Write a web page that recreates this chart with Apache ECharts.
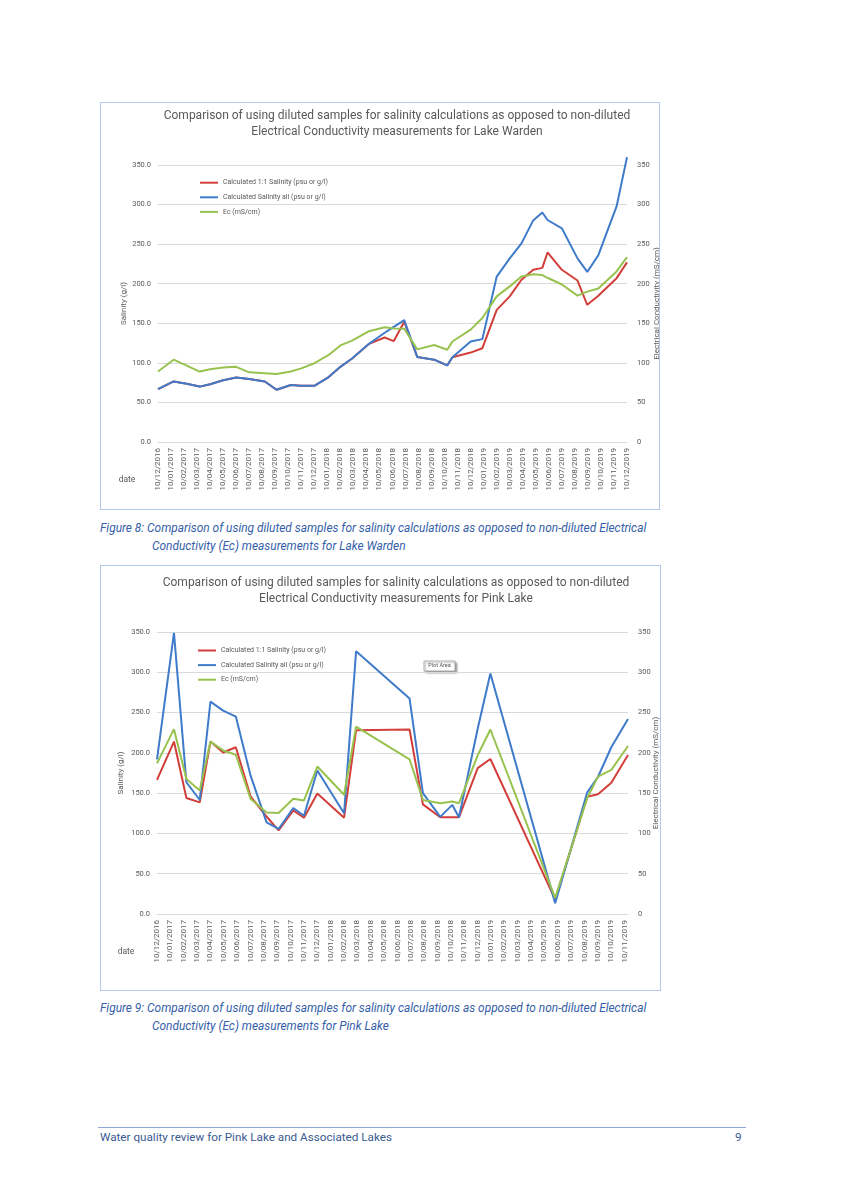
<!DOCTYPE html>
<html>
<head>
<meta charset="utf-8">
<script src="https://cdn.jsdelivr.net/npm/echarts/dist/echarts.min.js"></script>
<style>
html,body{margin:0;padding:0;background:#fff;}
body{width:844px;height:1193px;position:relative;overflow:hidden;font-family:Roboto,"Liberation Sans",sans-serif;}
.box{position:absolute;border:1px solid #b3c8ea;box-sizing:border-box;background:#fff;}
.chart{position:absolute;left:0;top:0;width:100%;height:100%;}
.cap{position:absolute;font-style:italic;font-size:11.9px;color:#3560a8;line-height:18px;white-space:nowrap;}
.foot{position:absolute;font-size:11.7px;color:#3a5a92;line-height:16px;white-space:nowrap;}
.rule{position:absolute;left:98px;top:1127px;width:648px;height:0;border-top:1px solid #8eaadb;}
</style>
</head>
<body>
<div class="box" style="left:100px;top:102px;width:560px;height:408px;"><div id="c1" class="chart"></div></div>
<div class="cap" style="left:100px;top:519px;">Figure 8: Comparison of using diluted samples for salinity calculations as opposed to non-diluted Electrical</div>
<div class="cap" style="left:152px;top:537px;">Conductivity (Ec) measurements for Lake Warden</div>

<div class="box" style="left:100px;top:565px;width:561px;height:426px;"><div id="c2" class="chart"></div></div>
<div class="cap" style="left:100px;top:999px;">Figure 9: Comparison of using diluted samples for salinity calculations as opposed to non-diluted Electrical</div>
<div class="cap" style="left:152px;top:1017px;">Conductivity (Ec) measurements for Pink Lake</div>

<div class="rule"></div>
<div class="foot" style="left:100px;top:1129px;">Water quality review for Pink Lake and Associated Lakes</div>
<div class="foot" style="left:735px;top:1129px;">9</div>

<script>
// ---------- Tick labels ----------
var wardenTicks = ['10/12/2016','10/01/2017','10/02/2017','10/03/2017','10/04/2017','10/05/2017','10/06/2017','10/07/2017','10/08/2017','10/09/2017','10/10/2017','10/11/2017','10/12/2017','10/01/2018','10/02/2018','10/03/2018','10/04/2018','10/05/2018','10/06/2018','10/07/2018','10/08/2018','10/09/2018','10/10/2018','10/11/2018','10/12/2018','10/01/2019','10/02/2019','10/03/2019','10/04/2019','10/05/2019','10/06/2019','10/07/2019','10/08/2019','10/09/2019','10/10/2019','10/11/2019','10/12/2019'];
var pinkTicks = ['10/12/2016','10/01/2017','10/02/2017','10/03/2017','10/04/2017','10/05/2017','10/06/2017','10/07/2017','10/08/2017','10/09/2017','10/10/2017','10/11/2017','10/12/2017','10/01/2018','10/02/2018','10/03/2018','10/04/2018','10/05/2018','10/06/2018','10/07/2018','10/08/2018','10/09/2018','10/10/2018','10/11/2018','10/12/2018','10/01/2019','10/02/2019','10/03/2019','10/04/2019','10/05/2019','10/06/2019','10/07/2019','10/08/2019','10/09/2019','10/10/2019','10/11/2019'];

// ---------- Lake Warden (sample date as months after 10/12/2016) ----------
var wardenMonth = [0,1.2,2.2,3.2,4,5,6,7,8.2,9.1,10.2,11,12,13.1,14,14.9,16.2,17.4,18.1,18.9,19.9,21.2,22.2,22.6,24,24.9,26,27,27.9,28.8,29.5,29.9,31,32.2,32.95,33.8,35.2,36];
var wardenSal11 = [66.7,76.5,73.5,70,73,78,81.5,79.5,76.5,66,72,71,71,82,95,105.5,124,132,127.5,152,107.5,104,96.8,107,113,118.5,167,184,205,217.6,220,239.5,217.6,204,173.4,184.8,207,227];
var wardenSalAll = [66.7,76.5,73.5,70,73,78,81.5,79.5,76.5,66,72,71,71,82,95,105.5,124,138,145.5,154,107.5,104,96.8,107,127,130,209,232,251,280,290,280.5,270,232,215,236,297.6,360];
var wardenEc = [89,104,96.5,89,92,94,95,88,87,86,89,93,99.5,110,122,128,140,145,143.5,143,117,122.5,116.6,127,142,156.6,184,196.6,209,212,211,207.5,199,185,190,194,215.5,233.7];

// ---------- Pink Lake ----------
var pinkMonth = [0,1.27,2.2,3.2,4,4.95,5.9,7,8.2,9.1,10.2,11,12,14,14.9,18.9,19.9,21.2,22.1,22.6,24,24.95,29.8,32.2,33,34,35.25];
var pinkSal11 = [166.5,214,144,138.5,214,200.5,207,146,121,103.9,128.6,119.5,149.5,119.5,228,229,136,120,120,120,181,192.4,17.8,145.5,148.6,163,197.4];
var pinkSalAll = [192,349,163.5,141.5,263.5,252.5,245,172,113.8,105.5,131.5,122,178,125,326,267.6,150,120.5,135.4,120,230,298.5,13.5,151,170,207,242];
var pinkEc = [187,229.4,167.5,153.4,214,203,197.6,143,126,125.3,143,141,183,148,232.5,192,141.6,137.5,139.6,137.5,197,229,20,144,170.5,178.8,208.5];

var seriesNames = ['Calculated 1:1 Salinity (psu or g/l)','Calculated Salinity all (psu or g/l)','Ec (mS/cm)'];
var colors = ['#d23f3b','#3f7bc9','#98c24f'];
var FONT = 'Roboto, "Liberation Sans", sans-serif';
var GREY = '#595959';

function pairs(xs, ys){ return xs.map(function(x,i){ return [x, ys[i]]; }); }

function makeOption(cfg){
  var data = [cfg.s11, cfg.sAll, cfg.ec];
  return {
    animation:false,
    textStyle:{fontFamily:FONT},
    grid:{left:cfg.grid[0], right:cfg.grid[1], top:cfg.grid[2], bottom:cfg.grid[3], containLabel:false, outerBoundsMode:'none'},
    xAxis:{
      type:'value', min:0, max:cfg.xMax, interval:1,
      axisLine:{show:true, lineStyle:{color:'#d9d9d9', width:1}},
      axisTick:{show:false}, splitLine:{show:false},
      axisLabel:{rotate:90, fontSize:8, color:GREY, margin:6, fontFamily:FONT,
        formatter:function(v){ var r=Math.round(v); return Math.abs(v-r)<1e-6 ? (cfg.ticks[r]||'') : ''; }}
    },
    yAxis:[
      {type:'value', min:0, max:350, interval:50, position:'left',
       name:'Salinity (g/l)', nameLocation:'middle', nameGap:cfg.leftGap, nameRotate:90, nameMoveOverlap:false,
       nameTextStyle:{fontSize:8, color:GREY, fontFamily:FONT},
       axisLine:{show:false}, axisTick:{show:false},
       axisLabel:{fontSize:7.5, color:GREY, margin:7, fontFamily:FONT, formatter:function(v){return v.toFixed(1);}},
       splitLine:{show:true, lineStyle:{color:'#d9d9d9', width:1}}},
      {type:'value', min:0, max:350, interval:50, position:'right',
       name:'Electrical Conductivity (mS/cm)', nameLocation:'middle', nameGap:cfg.rightGap, nameRotate:90, nameMoveOverlap:false,
       nameTextStyle:{fontSize:8, color:GREY, fontFamily:FONT},
       axisLine:{show:false}, axisTick:{show:false},
       axisLabel:{fontSize:7.5, color:GREY, margin:10, fontFamily:FONT, formatter:function(v){return String(v);}},
       splitLine:{show:false}}
    ],
    legend:{
      orient:'vertical', left:cfg.legend[0], top:cfg.legend[1], padding:0, itemGap:4.6,
      icon:'rect', itemWidth:18, itemHeight:2,
      textStyle:{fontSize:7, color:GREY, lineHeight:10, fontFamily:FONT},
      data:seriesNames
    },
    series:seriesNames.map(function(n,i){
      return {name:n, type:'line', yAxisIndex: i===2 ? 1 : 0, data:pairs(cfg.x, data[i]), clip:false,
        symbol:'none', showSymbol:false, color:colors[i], lineStyle:{width:2, color:colors[i]}, z:2+i};
    }),
    graphic:cfg.graphic
  };
}

function txt(x,y,t,size,align){
  return {type:'text', x:x, y:y, silent:true,
    style:{text:t, fill:GREY, font:size+'px '+FONT, align:align||'center', verticalAlign:'middle', textAlign:align||'center', textVerticalAlign:'middle'}};
}

var c1 = echarts.init(document.getElementById('c1'));
c1.setOption(makeOption({
  ticks:wardenTicks, xMax:36, x:wardenMonth, s11:wardenSal11, sAll:wardenSalAll, ec:wardenEc,
  grid:[57,32,62,67], leftGap:30, rightGap:26, legend:[99,74.7],
  graphic:[
    txt(296,13,'Comparison of using diluted samples for salinity calculations as opposed to non-diluted',12),
    txt(296,29,'Electrical Conductivity measurements for Lake Warden',12),
    txt(26,377,'date',8.5)
  ]
}));

var c2 = echarts.init(document.getElementById('c2'));
c2.setOption(makeOption({
  ticks:pinkTicks, xMax:35.25, x:pinkMonth, s11:pinkSal11, sAll:pinkSalAll, ec:pinkEc,
  grid:[56,32,66,76], leftGap:32, rightGap:23.5, legend:[97,79.5],
  graphic:[
    txt(295,17,'Comparison of using diluted samples for salinity calculations as opposed to non-diluted',12),
    txt(295,33,'Electrical Conductivity measurements for Pink Lake',12),
    txt(25,386,'date',8.5),
    {type:'group', x:323, y:95, silent:true, children:[
      {type:'rect', shape:{x:0,y:0,width:31,height:10},
       style:{fill:'#ffffff', stroke:'#9a9a9a', lineWidth:0.8, shadowBlur:2, shadowOffsetX:1.5, shadowOffsetY:1.5, shadowColor:'rgba(0,0,0,0.35)'}},
      {type:'text', x:15.5, y:5, style:{text:'Plot Area', fill:'#555', font:'5.5px '+FONT, align:'center', verticalAlign:'middle', textAlign:'center', textVerticalAlign:'middle'}}
    ]}
  ]
}));
</script>
</body>
</html>
